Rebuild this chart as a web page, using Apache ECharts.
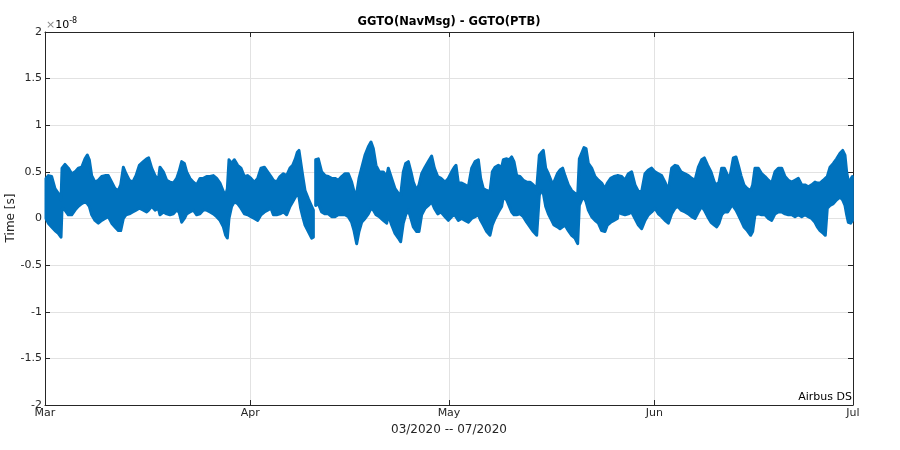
<!DOCTYPE html>
<html><head><meta charset="utf-8">
<script src="https://cdn.jsdelivr.net/npm/echarts@6/dist/echarts.min.js"></script>
<style>html,body{margin:0;padding:0;background:#fff}#c{width:900px;height:450px}</style>
</head><body><div id="c"></div>
<script>
// x: days since 2020-03-01 ; y: values in units of 1e-8 s
const monthTickDays = [0, 31, 61, 92, 122];
const monthTickLabels = ['Mar', 'Apr', 'May', 'Jun', 'Jul'];
const yMin = -2, yMax = 2, yStep = 0.5;

// envelope of the dense GGTO difference point cloud (null = data gap)
const dayOffsets = [
0.15,0.50,1.01,1.51,2.01,2.42,2.57,3.02,3.52,4.03,4.53,5.03,5.54,6.04,6.39,6.69,7.05,7.55,8.05,8.56,9.06,9.56,10.07,10.57,11.07,11.43,11.83,12.23,12.73,13.24,13.74,14.24,14.85,15.35,15.65,16.11,16.61,17.11,
17.36,17.87,18.37,18.87,19.38,19.88,20.23,20.64,21.04,21.39,21.89,22.40,22.90,23.40,23.91,24.41,24.91,25.42,25.92,26.42,26.93,27.28,27.53,27.78,28.18,28.59,29.09,29.59,30.10,30.60,31.10,31.61,32.11,32.61,33.12,33.62,34.12,
34.48,34.98,35.48,35.99,36.49,36.99,37.40,37.80,38.10,38.35,38.60,38.91,39.26,39.76,40.26,40.52,40.70,40.87,41.27,41.77,42.28,42.78,43.28,43.79,44.29,44.79,45.30,45.80,46.30,46.66,47.06,47.41,47.81,48.32,48.82,49.22,49.57,49.98,50.48,51.08,51.59,
51.84,52.34,52.85,53.35,53.70,54.10,54.46,54.86,55.26,55.61,56.12,56.47,56.87,57.38,57.88,58.38,58.79,59.29,59.79,60.40,60.90,61.40,61.81,62.06,62.41,62.91,63.42,63.92,64.42,64.93,65.43,65.78,66.18,66.69,67.19,67.54,67.95,68.45,68.95,
69.20,69.71,70.11,70.46,70.81,71.22,71.72,72.22,72.73,73.23,73.73,74.24,74.64,74.99,75.24,75.60,76.00,76.50,76.85,77.36,77.76,78.16,78.51,79.02,79.52,80.02,80.43,80.68,81.03,81.38,81.69,82.04,82.54,83.04,83.55,84.05,84.55,84.91,85.41,85.91,86.42,
86.57,87.07,87.57,88.08,88.58,89.08,89.59,90.09,90.59,91.10,91.60,92.10,92.61,93.11,93.61,94.12,94.62,95.12,95.53,96.03,96.63,97.14,97.64,98.14,98.65,99.15,99.55,100.06,100.56,101.06,101.41,101.77,102.17,102.57,103.08,103.43,103.78,
103.93,104.33,104.69,105.09,105.54,106.04,106.55,106.85,107.20,107.71,108.21,108.71,109.22,109.72,110.22,110.73,111.23,111.73,112.23,112.74,113.24,113.75,114.25,114.75,115.25,115.76,116.26,116.61,117.02,117.52,117.82,118.12,118.53,119.03,119.53,120.04,120.44,120.79,121.04,121.29,121.65,121.90
];
const upperE8 = [
0.43,0.46,0.45,0.32,0.27,0.20,0.54,0.58,0.54,0.48,0.50,0.54,0.55,0.64,0.68,0.63,0.46,0.39,0.41,0.45,0.46,0.46,0.39,0.32,0.30,0.36,0.55,0.48,0.41,0.39,0.46,0.57,0.61,0.64,0.65,0.54,0.46,0.41,
0.55,0.50,0.41,0.39,0.38,0.43,0.50,0.61,0.59,0.50,0.43,0.39,0.36,0.43,0.43,0.45,0.45,0.46,0.43,0.38,0.29,0.25,0.32,0.63,0.59,0.63,0.57,0.54,0.45,0.46,0.43,0.39,0.43,0.54,0.55,0.50,0.45,
0.41,0.39,0.45,0.48,0.46,0.54,0.57,0.64,0.71,0.73,0.61,0.46,0.30,0.21,0.13,0.09,null,0.63,0.64,0.50,0.46,0.45,0.43,0.43,0.41,0.45,0.48,0.48,0.39,0.29,0.27,0.43,0.54,0.68,0.77,0.82,0.75,0.57,0.50,0.50,0.45,
0.54,0.43,0.32,0.27,0.25,0.50,0.59,0.61,0.50,0.39,0.30,0.36,0.48,0.55,0.61,0.67,0.54,0.45,0.43,0.39,0.43,0.50,0.55,0.57,0.38,0.38,0.36,0.34,0.54,0.61,0.63,0.43,0.32,0.30,0.29,0.50,0.55,0.57,0.55,
0.63,0.64,0.63,0.66,0.61,0.46,0.45,0.41,0.39,0.39,0.36,0.32,0.68,0.71,0.73,0.54,0.48,0.39,0.39,0.48,0.52,0.54,0.46,0.36,0.30,0.27,0.25,0.64,0.70,0.76,0.75,0.59,0.54,0.45,0.41,0.38,0.32,0.38,0.43,0.45,0.46,
0.46,0.45,0.41,0.48,0.50,0.36,0.29,0.29,0.48,0.52,0.54,0.50,0.48,0.46,0.39,0.30,0.54,0.57,0.56,0.50,0.48,0.46,0.43,0.41,0.55,0.63,0.65,0.57,0.50,0.39,0.36,0.39,0.54,0.54,0.46,0.45,0.59,
0.65,0.66,0.57,0.46,0.36,0.32,0.30,0.36,0.54,0.54,0.48,0.45,0.41,0.38,0.50,0.54,0.54,0.45,0.41,0.39,0.41,0.43,0.36,0.36,0.34,0.36,0.39,0.38,0.38,0.41,0.43,0.45,0.55,0.59,0.64,0.70,0.73,0.68,0.50,0.40,0.42,0.45
];
const lowerE8 = [
0.00,-0.05,-0.09,-0.13,-0.16,-0.20,0.11,0.09,0.04,0.04,0.09,0.13,0.16,0.18,0.16,0.13,0.04,-0.02,-0.05,-0.02,0.00,0.02,-0.05,-0.09,-0.13,-0.13,0.00,0.04,0.05,0.07,0.09,0.11,0.09,0.07,0.09,0.13,0.09,0.11,
0.04,0.07,0.05,0.04,0.05,0.09,0.07,-0.04,0.00,0.05,0.07,0.09,0.04,0.05,0.09,0.09,0.07,0.05,0.02,-0.02,-0.09,-0.18,-0.21,0.00,0.13,0.18,0.16,0.11,0.05,0.04,0.02,0.00,-0.02,0.04,0.07,0.09,0.11,
0.04,0.04,0.05,0.07,0.04,0.13,0.18,0.23,0.27,0.23,0.11,0.02,-0.07,-0.14,-0.21,-0.20,null,0.14,0.16,0.07,0.05,0.05,0.02,0.02,0.04,0.04,0.04,0.02,-0.04,-0.13,-0.27,-0.14,-0.04,0.00,0.05,0.11,0.09,0.04,0.02,-0.02,-0.05,
0.04,-0.07,-0.16,-0.21,-0.25,-0.05,0.04,0.09,0.00,-0.09,-0.14,-0.14,0.04,0.11,0.14,0.18,0.11,0.05,0.07,0.02,-0.02,0.02,0.04,0.02,-0.02,0.00,-0.02,-0.04,0.00,0.02,0.04,-0.02,-0.07,-0.14,-0.18,-0.07,0.00,0.07,0.13,
0.23,0.20,0.13,0.07,0.04,0.04,0.05,0.02,-0.04,-0.09,-0.14,-0.18,0.25,0.30,0.27,0.13,0.05,-0.02,-0.07,-0.09,-0.11,-0.09,-0.07,-0.13,-0.18,-0.21,-0.27,0.14,0.20,0.23,0.18,0.09,0.02,-0.02,-0.05,-0.13,-0.14,-0.07,-0.04,-0.02,0.00,
0.07,0.05,0.04,0.05,0.07,0.00,-0.07,-0.11,-0.02,0.04,0.07,0.11,0.05,0.02,-0.02,-0.05,0.05,0.11,0.13,0.09,0.07,0.05,0.02,0.00,0.07,0.13,0.09,0.02,-0.04,-0.07,-0.09,-0.05,0.04,0.07,0.07,0.11,0.16,
0.13,0.09,0.04,-0.02,-0.09,-0.13,-0.18,-0.14,0.04,0.05,0.04,0.04,0.00,-0.02,0.05,0.07,0.07,0.05,0.04,0.04,0.02,0.04,0.02,0.04,0.02,0.00,-0.04,-0.09,-0.13,-0.16,-0.18,0.11,0.14,0.16,0.20,0.23,0.20,0.14,0.04,-0.04,-0.05,-0.02
];

// split into contiguous segments at null gaps
const segments = [];
let cur = [];
for (let i = 0; i < dayOffsets.length; i++) {
  if (upperE8[i] == null || lowerE8[i] == null) { if (cur.length) segments.push(cur); cur = []; }
  else cur.push(i);
}
if (cur.length) segments.push(cur);

const BLUE = '#0072BD';
const AX = '#262626';
const FONT = 'DejaVu Sans';
const chart = echarts.init(document.getElementById('c'), null, {renderer: 'canvas'});

const baseX = {
  type: 'value', min: monthTickDays[0], max: monthTickDays[monthTickDays.length - 1],
  axisLine: {show: true, onZero: false, lineStyle: {color: AX, width: 1}},
  axisTick: {show: true, inside: true, length: 5, customValues: monthTickDays, lineStyle: {color: AX}},
};
const baseY = {
  type: 'value', min: yMin, max: yMax, interval: yStep,
  axisLine: {show: true, onZero: false, lineStyle: {color: AX, width: 1}},
  axisTick: {show: true, inside: true, length: 5, lineStyle: {color: AX}},
};

chart.setOption({
  animation: false,
  backgroundColor: '#fff',
  grid: {left: 45, right: 47, top: 32, bottom: 45, containLabel: false},
  xAxis: [
    Object.assign({}, baseX, {
      position: 'bottom',
      axisLabel: {show: true, customValues: monthTickDays, margin: 3, fontSize: 11, color: AX, fontFamily: FONT,
        formatter: v => monthTickLabels[monthTickDays.indexOf(v)] || ''},
      splitLine: {show: true, lineStyle: {color: '#e2e2e2', width: 1}}
    }),
    Object.assign({}, baseX, {position: 'top', axisLabel: {show: false}, splitLine: {show: false}})
  ],
  yAxis: [
    Object.assign({}, baseY, {
      position: 'left',
      axisLabel: {show: true, margin: 3, fontSize: 11, color: AX, fontFamily: FONT},
      splitLine: {show: true, lineStyle: {color: '#e2e2e2', width: 1}}
    }),
    Object.assign({}, baseY, {position: 'right', axisLabel: {show: false}, splitLine: {show: false}})
  ],
  series: [{
    type: 'custom',
    xAxisIndex: 0, yAxisIndex: 0,
    silent: true,
    data: segments.map(s => [dayOffsets[s[0]], upperE8[s[0]]]),
    renderItem: function (params, api) {
      const seg = segments[params.dataIndex];
      const pts = [];
      for (let j = 0; j < seg.length; j++) pts.push(api.coord([dayOffsets[seg[j]], upperE8[seg[j]]]));
      for (let j = seg.length - 1; j >= 0; j--) pts.push(api.coord([dayOffsets[seg[j]], lowerE8[seg[j]]]));
      return {type: 'polygon', shape: {points: pts},
        style: {fill: BLUE, stroke: BLUE, lineWidth: 3, lineJoin: 'round'}};
    }
  }],
  graphic: [
    {type: 'text', x: 449, y: 22, style: {text: 'GGTO(NavMsg) - GGTO(PTB)', font: 'bold 11.5px "DejaVu Sans"', fill: '#000', textAlign: 'center', textVerticalAlign: 'middle'}},
    {type: 'text', x: 46, y: 25, style: {
      text: '{a|×}{b|10}{c|-8}', textVerticalAlign: 'middle',
      rich: {a: {fontSize: 11, fontFamily: FONT, fill: '#8a8a8a', color: '#8a8a8a'},
             b: {fontSize: 11, fontFamily: FONT, color: AX},
             c: {fontSize: 8, fontFamily: FONT, color: AX, verticalAlign: 'top', padding: [0, 0, 8, 0]}}}},
    {type: 'text', x: 11, y: 218, rotation: Math.PI / 2, style: {text: 'Time [s]', font: '12px "DejaVu Sans"', fill: AX, textAlign: 'center', textVerticalAlign: 'middle'}},
    {type: 'text', x: 449, y: 430, style: {text: '03/2020 -- 07/2020', font: '12px "DejaVu Sans"', fill: AX, textAlign: 'center', textVerticalAlign: 'middle'}},
    {type: 'text', x: 852, y: 397, style: {text: 'Airbus DS', font: '11px "DejaVu Sans"', fill: '#000', textAlign: 'right', textVerticalAlign: 'middle'}}
  ]
});
</script></body></html>
